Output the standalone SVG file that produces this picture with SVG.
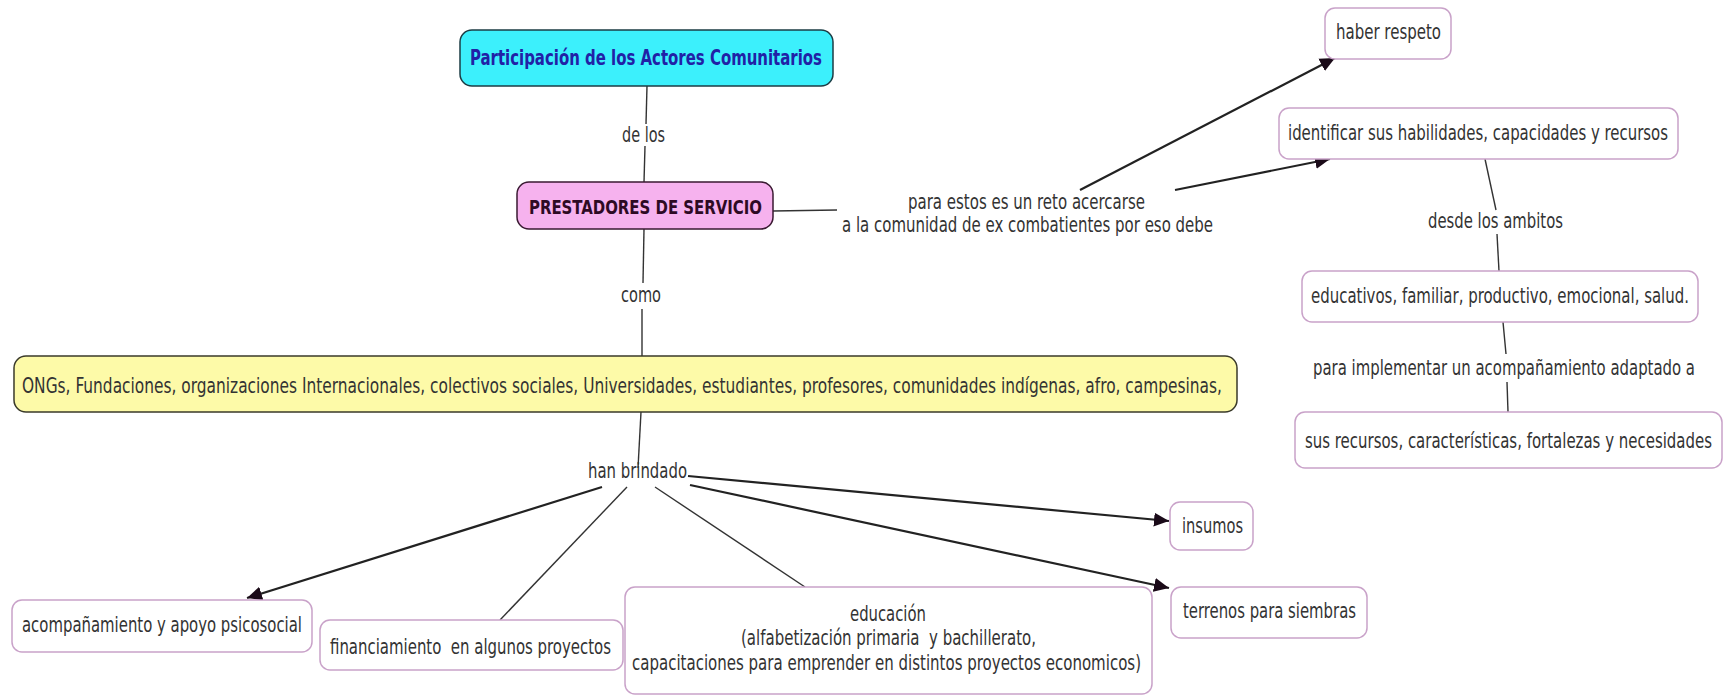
<svg xmlns="http://www.w3.org/2000/svg" width="1726" height="697" viewBox="0 0 1726 697">
<style>
text{font-family:"DejaVu Sans Condensed","DejaVu Sans","Liberation Sans",sans-serif;fill:#333;font-size:16px}
.box{fill:#fff;stroke:#c9a2c9;stroke-width:1.5}
.ln{stroke:#333;stroke-width:1.4;fill:none}
.ar{stroke:#222;stroke-width:2.2;fill:none;marker-end:url(#ah)}
</style>
<defs>
<marker id="ah" markerUnits="userSpaceOnUse" markerWidth="16" markerHeight="16" refX="15" refY="8" orient="auto">
<path d="M0,1 L15,8 L0,15 z" fill="#1a0a18"/>
</marker>
</defs>
<rect width="1726" height="697" fill="#fff"/>
<g id="connectors">
<line class="ln" x1="647" y1="86" x2="646" y2="124"/>
<line class="ln" x1="645" y1="146" x2="644" y2="182"/>
<line class="ln" x1="644" y1="229" x2="643" y2="283"/>
<line class="ln" x1="642" y1="309" x2="642" y2="356"/>
<line class="ln" x1="641" y1="412" x2="638" y2="468"/>
<line class="ln" x1="773" y1="211" x2="837" y2="210"/>
<line class="ar" x1="1080" y1="190" x2="1335" y2="58"/>
<line class="ar" x1="1175" y1="190" x2="1330" y2="159"/>
<line class="ln" x1="1485" y1="159" x2="1496" y2="210"/>
<line class="ln" x1="1497" y1="234" x2="1499" y2="271"/>
<line class="ln" x1="1503" y1="322" x2="1506" y2="354"/>
<line class="ln" x1="1507" y1="382" x2="1508" y2="412"/>
<line class="ar" x1="602" y1="487" x2="247" y2="598"/>
<line class="ln" x1="627" y1="487" x2="500" y2="620"/>
<line class="ln" x1="655" y1="487" x2="805" y2="587"/>
<line class="ar" x1="688" y1="476" x2="1169" y2="521"/>
<line class="ar" x1="690" y1="485" x2="1169" y2="588"/>
</g>
<g id="participacion">
<rect x="460" y="30" width="373" height="56" rx="12" fill="#3cf0fc" stroke="#1c3c44" stroke-width="1.5"/>
<text x="470" y="65" transform="translate(0 65) scale(1 1.33) translate(0 -65)" textLength="352" lengthAdjust="spacingAndGlyphs" font-weight="bold" style="fill:#2121a6">Participación de los Actores Comunitarios</text>
</g>
<g id="lbl-delos"><text x="622" y="142" transform="translate(0 142) scale(1 1.33) translate(0 -142)" textLength="43" lengthAdjust="spacingAndGlyphs">de los</text></g>
<g id="prestadores">
<rect x="517" y="182" width="256" height="47" rx="12" fill="#f6b2ee" stroke="#3a1a32" stroke-width="1.5"/>
<text x="529" y="214" transform="translate(0 214) scale(1 1.17) translate(0 -214)" textLength="233" lengthAdjust="spacingAndGlyphs" font-weight="bold" style="fill:#2e0a24">PRESTADORES DE SERVICIO</text>
</g>
<g id="lbl-como"><text x="621" y="302" transform="translate(0 302) scale(1 1.33) translate(0 -302)" textLength="40" lengthAdjust="spacingAndGlyphs">como</text></g>
<g id="ongs">
<rect x="14" y="356" width="1223" height="56" rx="12" fill="#fdfaa8" stroke="#3a3a2a" stroke-width="1.5"/>
<text x="22" y="393" transform="translate(0 393) scale(1 1.33) translate(0 -393)" textLength="1200" lengthAdjust="spacingAndGlyphs">ONGs, Fundaciones, organizaciones Internacionales, colectivos sociales, Universidades, estudiantes, profesores, comunidades indígenas, afro, campesinas,</text>
</g>
<g id="lbl-hanbrindado"><text x="588" y="478" transform="translate(0 478) scale(1 1.33) translate(0 -478)" textLength="99" lengthAdjust="spacingAndGlyphs">han brindado</text></g>
<g id="lbl-paraestos">
<text x="908" y="209" transform="translate(0 209) scale(1 1.33) translate(0 -209)" textLength="237" lengthAdjust="spacingAndGlyphs">para estos es un reto acercarse</text>
<text x="842" y="232" transform="translate(0 232) scale(1 1.33) translate(0 -232)" textLength="371" lengthAdjust="spacingAndGlyphs">a la comunidad de ex combatientes por eso debe</text>
</g>
<g id="haber-respeto">
<rect class="box" x="1325" y="8" width="126" height="51" rx="10"/>
<text x="1336" y="39" transform="translate(0 39) scale(1 1.33) translate(0 -39)" textLength="105" lengthAdjust="spacingAndGlyphs">haber respeto</text>
</g>
<g id="identificar">
<rect class="box" x="1279" y="108" width="399" height="51" rx="10"/>
<text x="1288" y="140" transform="translate(0 140) scale(1 1.33) translate(0 -140)" textLength="380" lengthAdjust="spacingAndGlyphs">identificar sus habilidades, capacidades y recursos</text>
</g>
<g id="lbl-desde"><text x="1428" y="228" transform="translate(0 228) scale(1 1.33) translate(0 -228)" textLength="135" lengthAdjust="spacingAndGlyphs">desde los ambitos</text></g>
<g id="educativos">
<rect class="box" x="1302" y="271" width="396" height="51" rx="10"/>
<text x="1311" y="303" transform="translate(0 303) scale(1 1.33) translate(0 -303)" textLength="378" lengthAdjust="spacingAndGlyphs">educativos, familiar, productivo, emocional, salud.</text>
</g>
<g id="lbl-implementar"><text x="1313" y="375" transform="translate(0 375) scale(1 1.33) translate(0 -375)" textLength="382" lengthAdjust="spacingAndGlyphs">para implementar un acompañamiento adaptado a</text></g>
<g id="sus-recursos">
<rect class="box" x="1295" y="412" width="427" height="56" rx="10"/>
<text x="1305" y="448" transform="translate(0 448) scale(1 1.33) translate(0 -448)" textLength="407" lengthAdjust="spacingAndGlyphs">sus recursos, características, fortalezas y necesidades</text>
</g>
<g id="insumos">
<rect class="box" x="1170" y="502" width="83" height="48" rx="10"/>
<text x="1182" y="533" transform="translate(0 533) scale(1 1.33) translate(0 -533)" textLength="61" lengthAdjust="spacingAndGlyphs">insumos</text>
</g>
<g id="terrenos">
<rect class="box" x="1171" y="587" width="196" height="51" rx="10"/>
<text x="1183" y="618" transform="translate(0 618) scale(1 1.33) translate(0 -618)" textLength="173" lengthAdjust="spacingAndGlyphs">terrenos para siembras</text>
</g>
<g id="acompanamiento">
<rect class="box" x="12" y="600" width="300" height="52" rx="10"/>
<text x="22" y="632" transform="translate(0 632) scale(1 1.33) translate(0 -632)" textLength="280" lengthAdjust="spacingAndGlyphs">acompañamiento y apoyo psicosocial</text>
</g>
<g id="financiamiento">
<rect class="box" x="320" y="620" width="303" height="50" rx="10"/>
<text x="330" y="654" transform="translate(0 654) scale(1 1.33) translate(0 -654)" textLength="281" lengthAdjust="spacingAndGlyphs" xml:space="preserve">financiamiento  en algunos proyectos</text>
</g>
<g id="educacion">
<rect class="box" x="625" y="587" width="527" height="107" rx="10"/>
<text x="850" y="621" transform="translate(0 621) scale(1 1.33) translate(0 -621)" textLength="76" lengthAdjust="spacingAndGlyphs">educación</text>
<text x="741" y="645" transform="translate(0 645) scale(1 1.33) translate(0 -645)" textLength="295" lengthAdjust="spacingAndGlyphs" xml:space="preserve">(alfabetización primaria  y bachillerato,</text>
<text x="632" y="670" transform="translate(0 670) scale(1 1.33) translate(0 -670)" textLength="509" lengthAdjust="spacingAndGlyphs">capacitaciones para emprender en distintos proyectos economicos)</text>
</g>
</svg>
